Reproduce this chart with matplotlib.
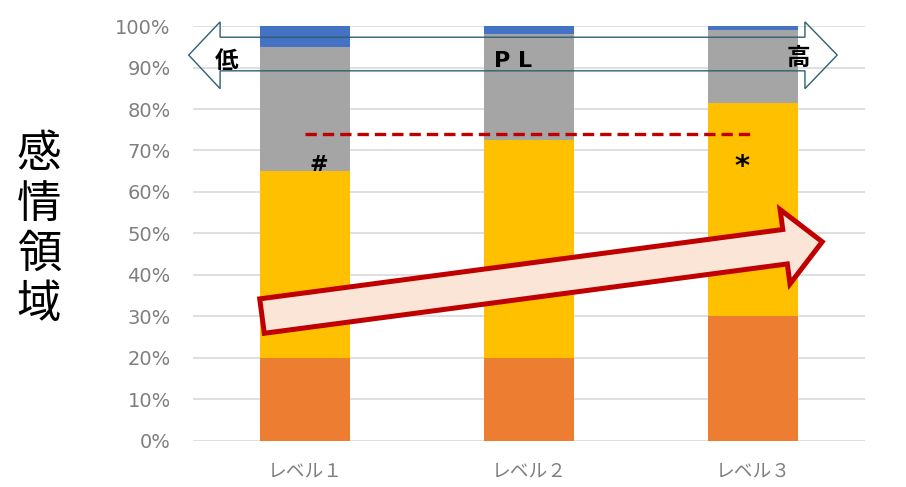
import numpy as np
import matplotlib
matplotlib.use("Agg")
import matplotlib.pyplot as plt
from matplotlib.patches import Polygon, FancyArrowPatch

plt.rcParams['font.family'] = ['Noto Sans CJK JP', 'DejaVu Sans']

# data
levels = ["レベル１", "レベル２", "レベル３"]
orange = [20, 20, 30]
yellow = [45, 52.5, 51.5]
gray = [30, 25.5, 17.5]
blue = [5, 2, 1]
ref_line = 74
yticks = [0, 10, 20, 30, 40, 50, 60, 70, 80, 90, 100]

colors = ["#ED7D31", "#FFC000", "#A5A5A5", "#4472C4"]

fig = plt.figure(figsize=(9.06, 4.87), dpi=100)
ax = fig.add_axes([0.213, 0.0945, 0.742, 0.8521])

x = np.arange(len(levels))
bottom = np.zeros(len(levels))
for vals, c in zip([orange, yellow, gray, blue], colors):
    ax.bar(x, vals, bottom=bottom, width=0.4, color=c, zorder=2)
    bottom += np.array(vals)

ax.set_xlim(-0.5, 2.5)
ax.set_ylim(0, 100)
ax.set_yticks(yticks)
ax.set_yticklabels([f"{v}%" for v in yticks], family='DejaVu Sans')
ax.set_xticks(x)
ax.set_xticklabels(levels)
ax.tick_params(axis='y', length=0, pad=16, labelsize=14, labelcolor='#7F7F7F')
ax.tick_params(axis='x', length=0, pad=14, labelsize=13.5, labelcolor='#7F7F7F')
ax.grid(axis='y', color='#D9D9D9', lw=1.2, zorder=0)
ax.set_axisbelow(True)
for s in ax.spines.values():
    s.set_visible(False)

# red dashed reference line
ax.plot([0, 2], [ref_line, ref_line], color='#C00000', lw=2.4,
        dashes=(3.4, 1.8), zorder=4)
ax.text(0.06, 66.5, "#", fontsize=16, fontweight='bold', ha='center', va='center',
        family='DejaVu Sans', zorder=5)
ax.text(1.95, 66.0, "*", fontsize=21, fontweight='bold', ha='center', va='center',
        family='DejaVu Sans', zorder=5)

# double arrow (PL low -> high)
dbl = [(-0.519, 93.0), (-0.379, 101.0), (-0.379, 97.3), (2.231, 97.3),
       (2.231, 101.0), (2.375, 93.0), (2.231, 84.9), (2.231, 89.2),
       (-0.379, 89.2), (-0.379, 84.9)]
ax.add_patch(Polygon(dbl, closed=True, fill=False, edgecolor='#2E6070', lw=1.0,
                     clip_on=False, zorder=6))
ax.text(-0.35, 91.6, "低", fontsize=17, fontweight='bold', ha='center', va='center', zorder=7)
ax.text(0.93, 91.6, "P L", fontsize=16, fontweight='bold', ha='center', va='center',
        family='DejaVu Sans', zorder=7)
ax.text(2.2, 92.3, "高", fontsize=17, fontweight='bold', ha='center', va='center', zorder=7)

# big red trend arrow
arr = FancyArrowPatch((-0.192, 30.1), (2.308, 48.0),
                      arrowstyle="simple,head_length=27,head_width=54,tail_width=25",
                      mutation_scale=1, shrinkA=0, shrinkB=0,
                      facecolor='#FBE5D6', edgecolor='#C00000', lw=3.6,
                      joinstyle='miter', clip_on=False, zorder=8)
ax.add_patch(arr)

# vertical y label
fig.text(0.043, 1 - 229 / 487, "感\n情\n領\n域", fontsize=32, ha='center', va='center',
         linespacing=1.12)

fig.savefig("out.png", dpi=100)
